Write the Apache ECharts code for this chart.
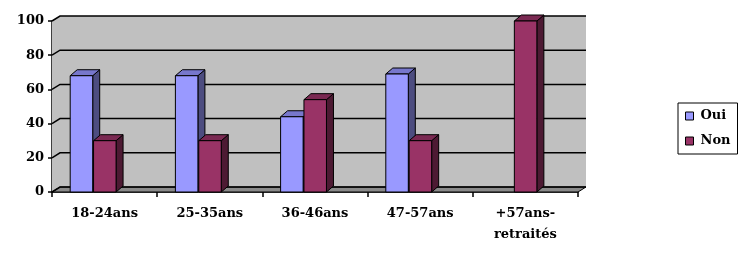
<!DOCTYPE html>
<html>
<head>
<meta charset="utf-8">
<script src="https://cdn.jsdelivr.net/npm/echarts@6/dist/echarts.min.js"></script>
<style>html,body{margin:0;padding:0;background:#fff;}#c{width:750px;height:254px;}</style>
</head>
<body>
<div id="c"></div>
<script>
var categories = ['18-24ans', '25-35ans', '36-46ans', '47-57ans', '+57ans-\nretraités'];
var seriesNames = ['Oui', 'Non'];
var ouiValues = [68, 68, 44, 69, 0];
var nonValues = [30, 30, 54, 30, 100];
var yTicks = [0, 20, 40, 60, 80, 100];

var FONT = 'DejaVu Serif';
var WALL_DX = 8, WALL_DY = -5;
var BAR_DX = 7, BAR_DY = -6;

var chart = echarts.init(document.getElementById('c'), null, {renderer: 'canvas'});

function wallRender(params, api) {
  var cs = params.coordSys;
  var x0 = cs.x, x1 = cs.x + cs.width;
  var y0 = api.coord([0, 0])[1];
  var yTop = api.coord([0, yTicks[yTicks.length - 1]])[1];
  var children = [];
  // back wall
  children.push({type: 'rect', shape: {x: x0 + WALL_DX, y: yTop + WALL_DY, width: x1 - x0, height: y0 - yTop},
    style: {fill: '#C0C0C0', stroke: null}});
  // side wall
  children.push({type: 'polygon', shape: {points: [[x0, yTop], [x0 + WALL_DX, yTop + WALL_DY], [x0 + WALL_DX, y0 + WALL_DY], [x0, y0]]},
    style: {fill: '#C0C0C0', stroke: null}});
  // floor
  children.push({type: 'polygon', shape: {points: [[x0, y0], [x1, y0], [x1 + WALL_DX, y0 + WALL_DY], [x0 + WALL_DX, y0 + WALL_DY]]},
    style: {fill: '#8A8A8A', stroke: '#000', lineWidth: 1}});
  // gridlines
  for (var i = 0; i < yTicks.length; i++) {
    var yv = api.coord([0, yTicks[i]])[1];
    children.push({type: 'polyline', shape: {points: [[x0, yv], [x0 + WALL_DX, yv + WALL_DY], [x1 + WALL_DX, yv + WALL_DY]]},
      style: {stroke: '#000', lineWidth: 1.5, fill: null}});
  }
  return {type: 'group', children: children};
}

function makeBarRender(offsetFrac, front, top, side) {
  return function (params, api) {
    var idx = api.value(0), val = api.value(1);
    if (!val) return null;
    var p = api.coord([idx, val]);
    var b = api.coord([idx, 0]);
    var bandW = api.size([1, 0])[0];
    var left = p[0] - bandW / 2 + offsetFrac * bandW;
    var w = 0.214 * bandW;
    var right = left + w;
    var yt = p[1], yb = b[1];
    var st = {stroke: '#000', lineWidth: 1};
    return {type: 'group', children: [
      {type: 'polygon', shape: {points: [[right, yt], [right + BAR_DX, yt + BAR_DY], [right + BAR_DX, yb + BAR_DY], [right, yb]]},
        style: Object.assign({fill: side}, st)},
      {type: 'polygon', shape: {points: [[left, yt], [left + BAR_DX, yt + BAR_DY], [right + BAR_DX, yt + BAR_DY], [right, yt]]},
        style: Object.assign({fill: top}, st)},
      {type: 'rect', shape: {x: left, y: yt, width: w, height: yb - yt},
        style: Object.assign({fill: front}, st)}
    ]};
  };
}

var ouiData = ouiValues.map(function (v, i) { return [i, v]; });
var nonData = nonValues.map(function (v, i) { return [i, v]; });

chart.setOption({
  animation: false,
  grid: {left: 52, right: 172, top: 21, bottom: 62},
  xAxis: {
    type: 'category', data: categories, boundaryGap: true,
    axisLine: {lineStyle: {color: '#000', width: 1.5}},
    axisTick: {show: true, length: 5, lineStyle: {color: '#000', width: 1.5}},
    axisLabel: {color: '#000', fontFamily: FONT, fontWeight: 'bold', fontSize: 13, margin: 11, lineHeight: 21, interval: 0},
    splitLine: {show: false}
  },
  yAxis: {
    type: 'value', min: 0, max: 100, interval: 20,
    axisLine: {show: true, lineStyle: {color: '#000', width: 1.5}},
    axisTick: {show: true, length: 4, lineStyle: {color: '#000', width: 1.5}},
    axisLabel: {color: '#000', fontFamily: FONT, fontWeight: 'bold', fontSize: 13, margin: 8},
    splitLine: {show: false}
  },
  legend: {
    orient: 'vertical', left: 678, top: 103,
    data: seriesNames,
    borderColor: '#000', borderWidth: 1,
    padding: [5, 7, 5, 7],
    itemWidth: 8, itemHeight: 8, itemGap: 9,
    icon: 'rect',
    itemStyle: {borderColor: '#000', borderWidth: 1},
    textStyle: {color: '#000', fontFamily: FONT, fontWeight: 'bold', fontSize: 13, lineHeight: 16, padding: [0, 0, 0, 2]}
  },
  series: [
    {type: 'custom', name: '_wall', renderItem: wallRender, data: [[0, 0]], silent: true, z: 1},
    {type: 'custom', name: seriesNames[0], renderItem: makeBarRender(0.173, '#9999FF', '#7777CC', '#4D4D80'),
      data: ouiData, itemStyle: {color: '#9999FF'}, z: 2},
    {type: 'custom', name: seriesNames[1], renderItem: makeBarRender(0.395, '#993366', '#7A2952', '#4D1A33'),
      data: nonData, itemStyle: {color: '#993366'}, z: 3}
  ]
});
</script>
</body>
</html>
